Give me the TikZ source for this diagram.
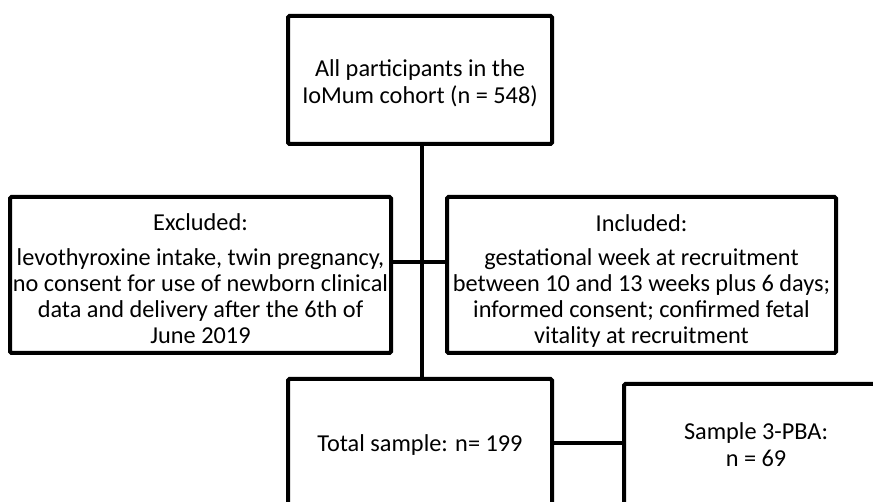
\documentclass[tikz,border=0pt]{standalone}
\usepackage{fontspec}
\setmainfont{Carlito}
\begin{document}
\begin{tikzpicture}[x=1pt,y=-1pt,
  box/.style={draw, line width=4pt, rounded corners=1.5pt, inner sep=0pt},
  txt/.style={align=center, inner sep=0pt, font=\fontsize{24.3}{26}\selectfont},
  conn/.style={line width=4pt}]
\useasboundingbox (0,0) rectangle (873,502);
\clip (0,0) rectangle (873,502);
% boxes
\node[box, minimum width=264pt, minimum height=128pt] (top) at (420,80) {};
\node[box, minimum width=381pt, minimum height=156pt] (exc) at (200.5,275) {};
\node[box, minimum width=389pt, minimum height=156pt] (inc) at (641.5,275) {};
\node[box, minimum width=264pt, minimum height=128pt] (total) at (420,443) {};
\node[box, minimum width=264pt, minimum height=121pt] (samp) at (756,444.5) {};
% texts
\node[txt] (toptxt) at ([yshift=-3pt]top.center)
  {All participants in the\\[1pt]IoMum cohort (n = 548)};
\node[txt] (exctxt) at ([yshift=-4pt]exc.center)
  {Excluded:\\[9pt]levothyroxine intake, twin pregnancy,\\no consent for use of newborn clinical\\data and delivery after the 6th of\\June 2019};
\node[txt] (inctxt) at ([yshift=-6pt]inc.center)
  {Included:\\[8pt]gestational week at recruitment\\between 10 and 13 weeks plus 6 days;\\informed consent; confirmed fetal\\vitality at recruitment};
\node[txt] (totaltxt) at ([yshift=-2pt]total.center) {Total sample: n= 199};
\node[txt] (samptxt) at (samp.center) {Sample 3-PBA:\\[1pt]n = 69};
% connectors
\coordinate (j) at (422,262);
\draw[conn] (top.south -| j) -- (total.north -| j);
\draw[conn] (exc.east |- j) -- (inc.west |- j);
\draw[conn] (total.east) -- (samp.west |- total.east);
\end{tikzpicture}
\end{document}
